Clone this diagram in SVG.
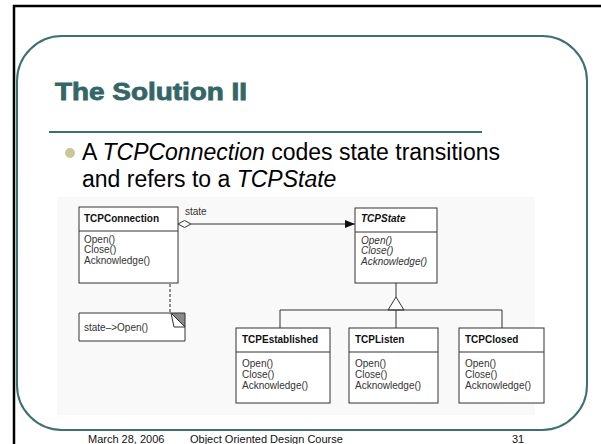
<svg xmlns="http://www.w3.org/2000/svg" width="601" height="444" viewBox="0 0 601 444">
<style>
.frame{fill:none;stroke:#000;stroke-width:2.5}
.panel{fill:#fff;stroke:#3d7070;stroke-width:2}
.title{font-family:"Liberation Sans",Arial,sans-serif;font-weight:bold;font-size:23px;fill:#336666;stroke:#336666;stroke-width:0.8}
.body{font-family:"Liberation Sans",Arial,sans-serif;font-size:23px;fill:#000}
.it{font-style:italic}
.box{fill:#fff;stroke:#333;stroke-width:1}
.div{stroke:#333;stroke-width:1}
.cn{font-family:"Liberation Sans",Arial,sans-serif;font-weight:bold;font-size:10px;fill:#111}
.m{font-family:"Liberation Sans",Arial,sans-serif;font-size:10px;fill:#333}
.ln{fill:none;stroke:#333;stroke-width:1}
.dash{fill:none;stroke:#222;stroke-width:1;stroke-dasharray:3,2}
.foot{font-family:"Liberation Sans",Arial,sans-serif;font-size:11px;fill:#111}
</style>
<defs>
<marker id="arrow" viewBox="0 0 10 8" refX="10" refY="4" markerWidth="10" markerHeight="8" markerUnits="userSpaceOnUse" orient="auto">
<path d="M0,0 L10,4 L0,8 z" fill="#111"/>
</marker>
</defs>
<rect width="601" height="444" fill="#fff"/>
<path class="frame" d="M14,444 V6 H601"/>
<rect class="panel" x="17" y="36" width="570" height="394" rx="45" ry="45"/>
<text class="title" x="55" y="100" textLength="192" lengthAdjust="spacingAndGlyphs">The Solution II</text>
<line x1="49" y1="132" x2="482" y2="132" stroke="#3d7070" stroke-width="2"/>
<circle cx="70" cy="153" r="5" fill="#c8c89a"/>
<text class="body" x="82" y="160">A <tspan class="it">TCPConnection</tspan> codes state transitions</text>
<text class="body" x="82" y="187">and refers to a <tspan class="it">TCPState</tspan></text>
<rect x="57" y="197" width="478" height="218" fill="#f9f9f9"/>

<g id="connectors">
<line class="ln" x1="191" y1="224" x2="355" y2="224" marker-end="url(#arrow)"/>
<path d="M178,224 L184.5,220.5 L191,224 L184.5,227.5 z" fill="#fff" stroke="#333" stroke-width="1"/>
<text class="m" x="185" y="215">state</text>
<circle cx="127" cy="240" r="2" fill="#fff" stroke="#333" stroke-width="0.8"/>
<path class="dash" d="M129,240 H170 V313"/>
<line class="ln" x1="396" y1="283" x2="396" y2="297"/>
<path d="M396,297 L404,310 L388,310 z" fill="#fff" stroke="#333" stroke-width="1"/>
<path class="ln" d="M280,328 V310 H502 V328 M396,310 V328"/>
</g>

<g id="TCPConnection">
<rect class="box" x="79" y="207" width="99" height="76"/>
<line class="div" x1="79" y1="231" x2="178" y2="231"/>
<text class="cn" x="84" y="222">TCPConnection</text>
<text class="m" x="84" y="243">Open()</text>
<text class="m" x="84" y="253">Close()</text>
<text class="m" x="84" y="264">Acknowledge()</text>
</g>

<g id="note">
<path class="box" d="M79,313 H171 L185,327 V341 H79 z"/>
<path d="M171,313 H185 V327 z" fill="#888" stroke="#333" stroke-width="1"/>
<path d="M171,313 L185,327 H174 z" fill="#fff" stroke="#333" stroke-width="1"/>
<text class="m" x="84" y="331">state–&gt;Open()</text>
</g>

<g id="TCPState">
<rect class="box" x="355" y="208" width="82" height="75"/>
<line class="div" x1="355" y1="232" x2="437" y2="232"/>
<text class="cn it" x="361" y="222">TCPState</text>
<text class="m it" x="361" y="244">Open()</text>
<text class="m it" x="361" y="254">Close()</text>
<text class="m it" x="361" y="265">Acknowledge()</text>
</g>

<g id="TCPEstablished">
<rect class="box" x="236" y="328" width="94" height="75"/>
<line class="div" x1="236" y1="352" x2="330" y2="352"/>
<text class="cn" x="242" y="343">TCPEstablished</text>
<text class="m" x="242" y="367">Open()</text>
<text class="m" x="242" y="378">Close()</text>
<text class="m" x="242" y="389">Acknowledge()</text>
</g>

<g id="TCPListen">
<rect class="box" x="349" y="328" width="89" height="75"/>
<line class="div" x1="349" y1="352" x2="438" y2="352"/>
<text class="cn" x="355" y="343">TCPListen</text>
<text class="m" x="355" y="367">Open()</text>
<text class="m" x="355" y="378">Close()</text>
<text class="m" x="355" y="389">Acknowledge()</text>
</g>

<g id="TCPClosed">
<rect class="box" x="459" y="328" width="85" height="75"/>
<line class="div" x1="459" y1="352" x2="544" y2="352"/>
<text class="cn" x="465" y="343">TCPClosed</text>
<text class="m" x="465" y="367">Open()</text>
<text class="m" x="465" y="378">Close()</text>
<text class="m" x="465" y="389">Acknowledge()</text>
</g>

<text class="foot" x="88" y="443">March 28, 2006</text>
<text class="foot" x="190" y="443">Object Oriented Design Course</text>
<text class="foot" x="512" y="443">31</text>
</svg>
